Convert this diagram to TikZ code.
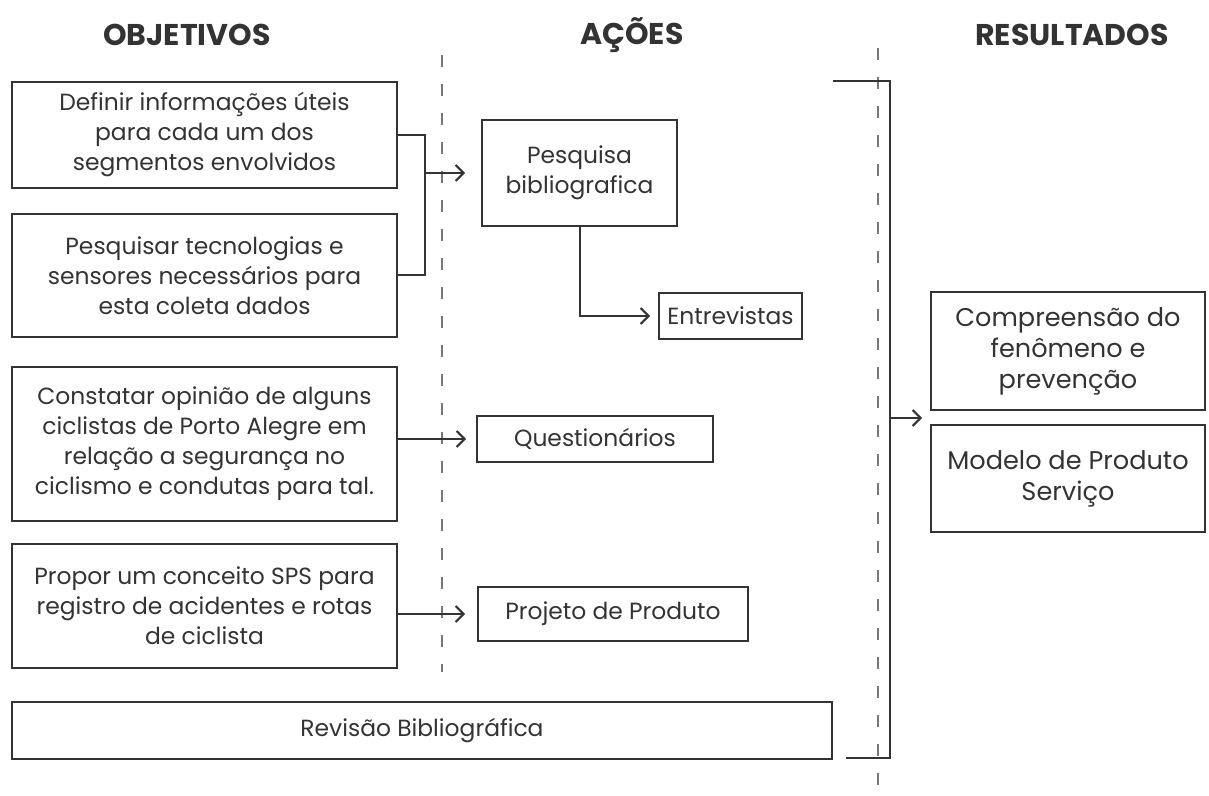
\documentclass[tikz,border=0pt]{standalone}
\usepackage{fontspec}
\setmainfont{Poppins}
\usetikzlibrary{positioning}
\usetikzlibrary{arrows.meta,calc}
\definecolor{ink}{HTML}{333333}
\definecolor{guide}{HTML}{777777}

\begin{document}
\begin{tikzpicture}[
x=0.5pt, y=-0.5pt,
>={Straight Barb[length=4pt,width=8pt]},
font=\fontsize{11.7}{15}\selectfont,
box/.style={rectangle, draw=ink, line width=1pt, text=ink, align=center, inner sep=2pt},
objective/.style={box, minimum width=192.5pt},
result/.style={box, minimum width=137pt, font=\fontsize{12.8}{15.5}\selectfont},
header/.style={text=ink, font=\fontsize{15}{18}\selectfont\bfseries},
divider/.style={draw=guide, line width=1pt, dash pattern=on 6pt off 8.5pt},
link/.style={draw=ink, line width=1pt}]
\useasboundingbox (0,0) rectangle (1209,796);

% column titles
\node[header] (tobj) at (187,35) {OBJETIVOS};
\node[header] (tact) at (632,35) {AÇÕES};
\node[header] (tres) at (1072,35) {RESULTADOS};

% column dividers
\draw[divider] (442,55) -- (442,672);
\draw[divider] (878,48) -- (878,796);

% objectives
\node[objective, minimum height=53pt] (def) at (204.5,135) {Definir informações úteis\\para cada um dos\\segmentos envolvidos};
\node[objective, minimum height=61.5pt] (tec) at (204.5,275.5) {Pesquisar tecnologias e\\sensores necessários para\\esta coleta dados};
\node[objective, minimum height=77pt] (opi) at (204.5,444) {Constatar opinião de alguns\\ciclistas de Porto Alegre em\\relação a segurança no\\ciclismo e condutas para tal.};
\node[objective, minimum height=62pt] (sps) at (204.5,606) {Propor um conceito SPS para\\registro de acidentes e rotas\\de ciclista};
\node[box, minimum width=410pt, minimum height=28.5pt] (rev) at (422,730.5) {Revisão Bibliográfica};

% actions
\node[box, minimum width=97.5pt, minimum height=53pt] (pesq) at (579.5,173) {Pesquisa\\bibliografica};
\node[box, minimum width=71.5pt, minimum height=23pt] (entr) at (730.5,316) {Entrevistas};
\node[box, minimum width=118pt, minimum height=23pt] (quest) at (595,439) {Questionários};
\node[box, minimum width=135pt, minimum height=27pt] (proj) at (613,614) {Projeto de Produto};

% results
\node[result, minimum height=59pt] (comp) at (1068,351) {Compreensão do\\fenômeno e\\prevenção};
\node[result, minimum height=53.5pt] (mod) at (1068,478.5) {Modelo de Produto\\Serviço};

% connectors
\coordinate (join) at (425,173);
\draw[link] (def.east) -| (join) |- (tec.east);
\draw[link,->,shorten >=8pt] (join) -- (pesq.west);
\draw[link,->,shorten >=4pt] (pesq.south) |- (entr.west);
\draw[link,->,shorten >=5pt] (opi.east |- quest.west) -- (quest.west);
\draw[link,->,shorten >=6pt] (sps.east |- proj.west) -- (proj.west);

\coordinate (rtop) at (833,81);
\coordinate (rbot) at (846,758);
\coordinate (fork) at (890,418);
\draw[link] (rtop) -| (fork) |- (rbot);
\draw[link,->,shorten >=4pt] (fork) -- (fork -| comp.west);
\end{tikzpicture}
\end{document}
